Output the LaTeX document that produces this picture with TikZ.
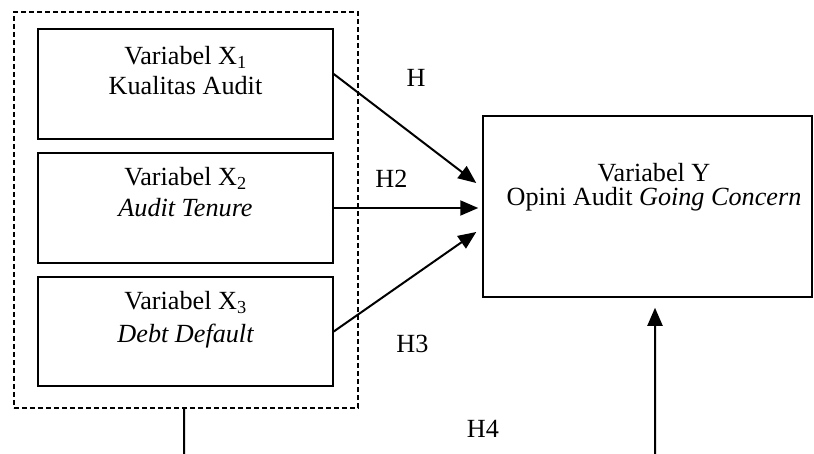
\documentclass[tikz,border=0pt]{standalone}
\usepackage{fontspec}
\setmainfont{Liberation Serif}
\usetikzlibrary{arrows.meta}
\begin{document}
\begin{tikzpicture}[x=1bp,y=-1bp,
  varbox/.style={draw, line width=1.5bp, inner sep=0, rectangle},
  grpbox/.style={draw, line width=1.3bp, dash pattern=on 5bp off 3bp, inner sep=0, rectangle},
  lbl/.style={anchor=base, inner sep=0, font=\fontsize{26.3}{31}\selectfont},
  conn/.style={line width=2bp, -{Triangle[length=18bp,width=15bp]}},
  plain/.style={line width=2bp},
]
\useasboundingbox (0,0) rectangle (814,454);
% group box
\node[grpbox, minimum width=344bp, minimum height=396bp] (grp) at (186,210) {};
% variable boxes
\node[varbox, minimum width=295bp, minimum height=110bp] (x1) at (185.5,84) {};
\node[varbox, minimum width=295bp, minimum height=110bp] (x2) at (185.5,208) {};
\node[varbox, minimum width=295bp, minimum height=109bp] (x3) at (185.5,331.5) {};
\node[varbox, minimum width=329bp, minimum height=181bp] (y) at (647.5,206.5) {};
% texts
\node[lbl] (x1a) at (185.5,65) {Variabel X\textsubscript{1}};
\node[lbl] (x1b) at (185.5,95) {Kualitas Audit};
\node[lbl] (x2a) at (185.5,186) {Variabel X\textsubscript{2}};
\node[lbl] (x2b) at (185.5,217) {\itshape Audit Tenure};
\node[lbl] (x3a) at (185.5,310) {Variabel X\textsubscript{3}};
\node[lbl] (x3b) at (185.5,343) {\itshape Debt Default};
\node[lbl] (ya) at (654,182) {Variabel Y};
\node[lbl] (yb) at (654,206) {Opini Audit \textit{Going Concern}};
% hypothesis labels
\node[lbl] (h1) at (416,87) {H};
\node[lbl] (h2) at (391.5,188) {H2};
\node[lbl] (h3) at (412.5,353) {H3};
\node[lbl] (h4) at (483,437) {H4};
% connectors
\draw[conn] ([yshift=10bp]x1.east) -- ([xshift=-6bp,yshift=23.5bp]y.west);
\draw[conn] (x2.east) -- ([xshift=-4bp,yshift=-1.5bp]y.west);
\draw[conn] (x3.east) -- ([xshift=-6bp,yshift=-25.5bp]y.west);
\coordinate (lend) at (184,454);
\coordinate (rstart) at (655,454);
\draw[plain] ([xshift=-2bp]grp.south) -- (lend);
\draw[conn] (rstart) -- ([xshift=7.5bp,yshift=-10bp]y.south);
\end{tikzpicture}
\end{document}
